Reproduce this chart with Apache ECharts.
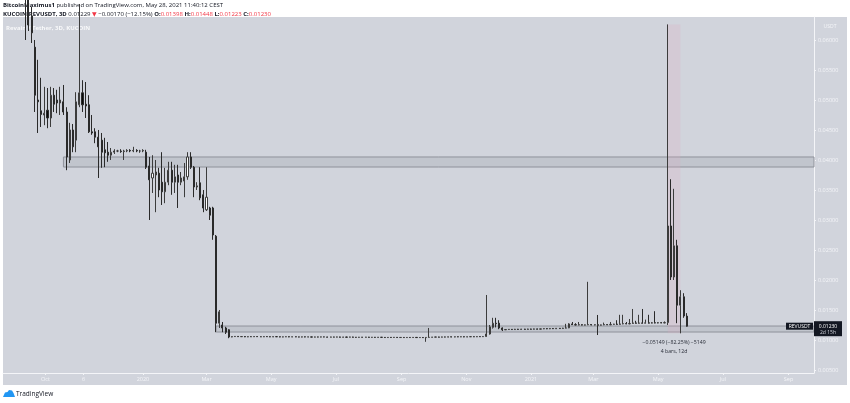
<!DOCTYPE html>
<html><head><meta charset="utf-8">
<script src="https://cdn.jsdelivr.net/npm/echarts@6/dist/echarts.min.js"></script>
<style>html,body{margin:0;padding:0;background:#fff}#c{width:850px;height:403px}</style>
</head><body><div id="c"></div>
<script>
// ---- DATA (3D candles, KUCOIN:REVUSDT) ----
const firstBarDate = '2019-09-12';
const barStepDays = 3;
const opens = [
0.0700,0.0680,0.0640,0.0588,0.0500,0.0482,0.0475,0.0483,0.0470,0.0508,
0.0500,0.0495,0.0497,0.0480,0.0400,0.0450,0.0433,0.0492,0.0512,0.0493,
0.0492,0.0447,0.0447,0.0438,0.0433,0.0417,0.0413,0.0408,0.0413,0.0415,
0.0415,0.0414,0.0415,0.0416,0.0415,0.0416,0.0415,0.0415,0.0413,0.0390,
0.0370,0.0375,0.0378,0.0363,0.0347,0.0363,0.0383,0.0363,0.0375,0.0363,
0.0365,0.0372,0.0405,0.0388,0.0355,0.0362,0.0342,0.0317,0.0320,0.0320,
0.0273,0.0128,0.0125,0.0120,0.0117,0.01050,0.01057,0.01060,0.01055,0.01058,
0.01052,0.01056,0.01054,0.01058,0.01055,0.01053,0.01057,0.01055,0.01052,0.01056,
0.01054,0.01050,0.01053,0.01055,0.01051,0.01054,0.01052,0.01049,0.01053,0.01050,
0.01052,0.01048,0.01051,0.01049,0.01052,0.01050,0.01047,0.01050,0.01048,0.01051,
0.01046,0.01049,0.01047,0.01050,0.01046,0.01044,0.01047,0.01045,0.01048,0.01044,
0.01046,0.01043,0.01046,0.01044,0.01041,0.01044,0.01042,0.01045,0.01041,0.01043,
0.01040,0.01043,0.01041,0.01044,0.01040,0.01042,0.01039,0.01043,0.01045,0.01048,
0.01050,0.01047,0.01051,0.01049,0.01053,0.01050,0.01054,0.01052,0.01055,0.01051,
0.01054,0.01056,0.01053,0.01057,0.01055,0.01058,0.01100,0.01210,0.01280,0.01280,
0.01200,0.01170,0.01175,0.01178,0.01174,0.01180,0.01176,0.01181,0.01177,0.01183,
0.01179,0.01185,0.01180,0.01186,0.01190,0.01186,0.01192,0.01188,0.01195,0.01191,
0.01198,0.01202,0.01268,0.01255,0.01250,0.01256,0.01248,0.01253,0.01258,0.01250,
0.01255,0.01246,0.01252,0.01258,0.01253,0.01260,0.01265,0.01260,0.01268,0.01273,
0.01268,0.01275,0.01285,0.01278,0.01284,0.01280,0.01286,0.01281,0.01288,0.01283,
0.01289,0.01284,0.01290,0.02900,0.02050,0.02570,0.01580,0.01720,0.01398];
const closes = [
0.0680,0.0625,0.0612,0.0508,0.0497,0.0476,0.0478,0.0470,0.0508,0.0493,
0.0495,0.0500,0.0480,0.0405,0.0450,0.0422,0.0497,0.0512,0.0492,0.0490,
0.0447,0.0445,0.0438,0.0422,0.0413,0.0412,0.0408,0.0413,0.0415,0.0415,
0.0414,0.0415,0.0416,0.0415,0.0416,0.0415,0.0415,0.0416,0.0388,0.0367,
0.0378,0.0380,0.0350,0.0347,0.0363,0.0383,0.0363,0.0372,0.0363,0.0370,
0.0372,0.0405,0.0388,0.0355,0.0357,0.0337,0.0320,0.0338,0.0308,0.0275,
0.0128,0.0147,0.0120,0.0113,0.0105,0.01057,0.01060,0.01055,0.01058,0.01052,
0.01056,0.01054,0.01058,0.01055,0.01053,0.01057,0.01055,0.01052,0.01056,0.01054,
0.01050,0.01053,0.01055,0.01051,0.01054,0.01052,0.01049,0.01053,0.01050,0.01052,
0.01048,0.01051,0.01049,0.01052,0.01050,0.01047,0.01050,0.01048,0.01051,0.01046,
0.01049,0.01047,0.01050,0.01046,0.01044,0.01047,0.01045,0.01048,0.01044,0.01046,
0.01043,0.01046,0.01044,0.01041,0.01044,0.01042,0.01045,0.01041,0.01043,0.01040,
0.01043,0.01041,0.01044,0.01040,0.01042,0.01039,0.01043,0.01045,0.01048,0.01050,
0.01047,0.01051,0.01049,0.01053,0.01050,0.01054,0.01052,0.01055,0.01051,0.01054,
0.01056,0.01053,0.01057,0.01055,0.01058,0.01100,0.01220,0.01280,0.01270,0.01200,
0.01170,0.01175,0.01178,0.01174,0.01180,0.01176,0.01181,0.01177,0.01183,0.01179,
0.01185,0.01180,0.01186,0.01190,0.01186,0.01192,0.01188,0.01195,0.01191,0.01198,
0.01202,0.01268,0.01255,0.01250,0.01256,0.01248,0.01253,0.01258,0.01250,0.01255,
0.01246,0.01252,0.01258,0.01253,0.01260,0.01265,0.01260,0.01268,0.01273,0.01268,
0.01275,0.01285,0.01278,0.01284,0.01280,0.01286,0.01281,0.01288,0.01283,0.01289,
0.01284,0.01290,0.02900,0.02050,0.02570,0.01580,0.01720,0.01400,0.01230];
const lows = [
0.0600,0.0615,0.0595,0.0480,0.0445,0.0455,0.0458,0.0453,0.0455,0.0480,
0.0478,0.0475,0.0475,0.0383,0.0395,0.0413,0.0413,0.0488,0.0480,0.0470,
0.0445,0.0442,0.0428,0.0370,0.0387,0.0388,0.0397,0.0400,0.0410,0.0413,
0.0412,0.0400,0.0413,0.0413,0.0413,0.0413,0.0412,0.0413,0.0385,0.0300,
0.0345,0.0313,0.0338,0.0325,0.0328,0.0358,0.0342,0.0345,0.0320,0.0358,
0.0338,0.0367,0.0385,0.0338,0.0350,0.0333,0.0313,0.0315,0.0300,0.0267,
0.0113,0.0120,0.0113,0.0110,0.0103,0.01046,0.01053,0.01051,0.01051,0.01048,
0.01048,0.01050,0.01050,0.01051,0.01049,0.01049,0.01051,0.01048,0.01048,0.01050,
0.01046,0.01046,0.01049,0.01047,0.01047,0.01048,0.01045,0.01045,0.01046,0.01046,
0.01044,0.01044,0.01045,0.01045,0.01046,0.01043,0.01043,0.01044,0.01044,0.01042,
0.01042,0.01043,0.01043,0.01042,0.01040,0.01040,0.01041,0.01041,0.01040,0.01040,
0.01039,0.01039,0.01040,0.01037,0.01037,0.01038,0.01038,0.01037,0.01037,0.01036,
0.01036,0.01037,0.01037,0.01036,0.01036,0.01035,0.00970,0.01039,0.01041,0.01044,
0.01043,0.01043,0.01045,0.01045,0.01046,0.01046,0.01048,0.01048,0.01047,0.01047,
0.01050,0.01049,0.01049,0.01051,0.01051,0.01050,0.01090,0.01190,0.01210,0.01180,
0.01150,0.01166,0.01170,0.01169,0.01169,0.01171,0.01171,0.01172,0.01172,0.01174,
0.01174,0.01175,0.01175,0.01181,0.01181,0.01181,0.01183,0.01183,0.01186,0.01186,
0.01193,0.01197,0.01250,0.01245,0.01245,0.01243,0.01243,0.01248,0.01245,0.01245,
0.01083,0.01241,0.01247,0.01248,0.01248,0.01255,0.01255,0.01255,0.01263,0.01263,
0.01263,0.01270,0.01273,0.01273,0.01275,0.01275,0.01276,0.01276,0.01278,0.01278,
0.01279,0.01279,0.01250,0.02000,0.02000,0.01280,0.01111,0.01370,0.01223];
const highs = [
0.0720,0.0690,0.0655,0.0600,0.0567,0.0537,0.0522,0.0520,0.0522,0.0520,
0.0517,0.0522,0.0525,0.0488,0.0462,0.0460,0.0513,0.0660,0.0533,0.0530,
0.0508,0.0475,0.0453,0.0450,0.0445,0.0437,0.0430,0.0420,0.0418,0.0417,
0.0418,0.0417,0.0418,0.0418,0.0422,0.0418,0.0417,0.0418,0.0417,0.0405,
0.0408,0.0400,0.0387,0.0413,0.0387,0.0397,0.0397,0.0392,0.0392,0.0380,
0.0395,0.0413,0.0413,0.0390,0.0363,0.0388,0.0350,0.0388,0.0322,0.0322,
0.0275,0.0150,0.0130,0.0122,0.0118,0.01061,0.01064,0.01064,0.01062,0.01062,
0.01060,0.01060,0.01062,0.01062,0.01059,0.01061,0.01061,0.01059,0.01060,0.01060,
0.01058,0.01057,0.01059,0.01059,0.01058,0.01058,0.01056,0.01057,0.01057,0.01056,
0.01056,0.01055,0.01055,0.01056,0.01056,0.01054,0.01054,0.01054,0.01055,0.01055,
0.01053,0.01053,0.01054,0.01054,0.01050,0.01051,0.01051,0.01052,0.01052,0.01050,
0.01050,0.01050,0.01050,0.01048,0.01048,0.01048,0.01049,0.01049,0.01047,0.01047,
0.01047,0.01047,0.01048,0.01048,0.01046,0.01046,0.01047,0.01200,0.01052,0.01054,
0.01054,0.01055,0.01055,0.01057,0.01057,0.01058,0.01058,0.01059,0.01059,0.01058,
0.01060,0.01060,0.01061,0.01061,0.01062,0.01750,0.01250,0.01370,0.01370,0.01330,
0.01210,0.01180,0.01183,0.01183,0.01185,0.01185,0.01186,0.01186,0.01188,0.01188,
0.01190,0.01190,0.01191,0.01195,0.01195,0.01197,0.01197,0.01200,0.01200,0.01203,
0.01270,0.01280,0.01300,0.01280,0.01300,0.01262,0.01258,0.01970,0.01263,0.01260,
0.01417,0.01257,0.01290,0.01263,0.01300,0.01270,0.01330,0.01420,0.01420,0.01300,
0.01350,0.01517,0.01320,0.01420,0.01517,0.01340,0.01420,0.01300,0.01480,0.01300,
0.01300,0.01310,0.06260,0.03680,0.03520,0.02670,0.01830,0.01780,0.01448];

const timeTickDates = ['2019-10-01','2019-11-06','2020-01-01','2020-03-01','2020-05-01','2020-07-01','2020-09-01','2020-11-01','2021-01-01','2021-03-01','2021-05-01','2021-07-01','2021-09-01'];
const timeTickLabels = ['Oct','6','2020','Mar','May','Jul','Sep','Nov','2021','Mar','May','Jul','Sep'];
const priceTicks = [0.005,0.010,0.015,0.020,0.025,0.030,0.035,0.040,0.045,0.050,0.055,0.060];
const viewStartDate = '2019-08-22';
const viewEndDate = '2021-09-25';
const priceMin = 0.0045;
const priceMax = 0.063833;
const resistanceStart = '2019-10-18';
const resistanceBand = [0.03883, 0.0405];
const supportStart = '2020-03-10';
const supportBand = [0.01133, 0.01233];
const measureFrom = '2021-05-10';
const measureTo = '2021-05-22';

// ---- helpers ----
const DAY = 86400000, EPOCH = Date.UTC(2020, 0, 1);
function dayOf(s) { const p = s.split('-').map(Number); return (Date.UTC(p[0], p[1] - 1, p[2]) - EPOCH) / DAY; }
const firstDay = dayOf(firstBarDate);
const candles = opens.map((o, i) => [firstDay + i * barStepDays, o, closes[i], lows[i], highs[i]]);
const xMin = dayOf(viewStartDate), xMax = dayOf(viewEndDate);
const tickDays = timeTickDates.map(dayOf);
const iFrom = (dayOf(measureFrom) - firstDay) / barStepDays;
const iTo = (dayOf(measureTo) - firstDay) / barStepDays;
const mHigh = highs[iFrom], mLow = lows[iTo];
const mChange = mLow - mHigh;
const minus = '\u2212';
const fmtSigned = v => (v < 0 ? minus : '') + Math.abs(v).toFixed(5);
const measureText = fmtSigned(mChange) + ' (' + minus + (Math.abs(mChange) / mHigh * 100).toFixed(2) + '%) ' + minus + Math.round(Math.abs(mChange) * 100000)
  + '\n' + (iTo - iFrom) + ' bars, ' + ((iTo - iFrom) * barStepDays) + 'd';

const FONT = '"Open Sans", "DejaVu Sans", sans-serif';
const LIGHT = '#f4f5f8';
const PANE = '#d1d4dc';
const RED = '#f23645';
const INK = '#131722';

const chart = echarts.init(document.getElementById('c'), null, { renderer: 'canvas' });
chart.setOption({
  animation: false,
  backgroundColor: '#ffffff',
  grid: { left: 3, right: 36, top: 17, bottom: 30 },
  xAxis: {
    type: 'value', min: xMin, max: xMax,
    axisLine: { show: true, onZero: false, lineStyle: { color: LIGHT, width: 1 } },
    axisTick: { show: true, customValues: tickDays, length: 2, lineStyle: { color: LIGHT } },
    axisLabel: {
      show: true, customValues: tickDays, margin: 3, color: LIGHT, fontSize: 5.5, fontFamily: FONT,
      formatter: v => { const i = tickDays.findIndex(t => Math.abs(t - v) < 0.5); return i < 0 ? '' : timeTickLabels[i]; }
    },
    splitLine: { show: false }
  },
  yAxis: {
    type: 'value', position: 'right', min: priceMin, max: priceMax, scale: true,
    axisLine: { show: true, onZero: false, lineStyle: { color: LIGHT, width: 1 } },
    axisTick: { show: true, customValues: priceTicks, length: 2, lineStyle: { color: LIGHT } },
    axisLabel: { show: true, customValues: priceTicks, margin: 4, color: LIGHT, fontSize: 5.5, fontFamily: FONT, formatter: v => v.toFixed(5) },
    splitLine: { show: false }
  },
  graphic: [
    { id: 'pane', type: 'rect', z: -10, silent: true, shape: { x: 3, y: 17, width: 844, height: 368 }, style: { fill: PANE } },
    { id: 'hdr1', type: 'text', silent: true, style: { x: 3, y: 5.5, verticalAlign: 'middle', fontSize: 6, fontFamily: FONT, fill: INK,
      text: '{b|BitcoinMaximus1} published on TradingView.com, May 28, 2021 11:40:12 CEST',
      rich: { b: { fontWeight: 'bold', fontSize: 6, fontFamily: FONT, fill: INK } } } },
    { id: 'hdr2', type: 'text', silent: true, style: { x: 3, y: 14, verticalAlign: 'middle', fontSize: 6, fontFamily: FONT, fill: INK,
      text: '{b|KUCOIN:REVUSDT, 3D} 0.01229 {r|\u25BC} \u22120.00170 (\u221212.15%) {b|O:}{r|0.01398} {b|H:}{r|0.01448} {b|L:}{r|0.01223} {b|C:}{r|0.01230}',
      rich: { b: { fontWeight: 'bold', fontSize: 6, fontFamily: FONT, fill: INK }, r: { fontSize: 6, fontFamily: FONT, fill: RED } } } },
    { id: 'paneTitle', type: 'text', silent: true, z: 0, style: { x: 6, y: 28, verticalAlign: 'middle', fontSize: 6, fontWeight: 'bold', fontFamily: FONT, fill: 'rgba(255,255,255,0.85)', text: 'Revain / Tether, 3D, KUCOIN' } },
    { id: 'unit', type: 'text', silent: true, style: { x: 830, y: 27, align: 'center', verticalAlign: 'middle', fontSize: 5, fontFamily: FONT, fill: LIGHT, text: 'USDT' } },
    { id: 'logo', type: 'polygon', silent: true, shape: { points: [[3, 397], [5, 392.5], [7.5, 392], [9, 390], [12, 390.5], [13.5, 393], [15, 397]] }, style: { fill: '#2196f3' } },
    { id: 'logoText', type: 'text', silent: true, style: { x: 16, y: 394, verticalAlign: 'middle', fontSize: 6.5, fontFamily: FONT, fill: INK, text: 'TradingView' } }
  ],
  series: [
    {
      type: 'line', data: [], z: 1, silent: true,
      markArea: {
        silent: true, label: { show: false },
        data: [
          [{ xAxis: dayOf(resistanceStart), yAxis: resistanceBand[0], itemStyle: { color: 'rgba(110,113,124,0.15)', borderColor: '#8f929b', borderWidth: 1 } }, { xAxis: xMax, yAxis: resistanceBand[1] }],
          [{ xAxis: dayOf(supportStart), yAxis: supportBand[0], itemStyle: { color: 'rgba(110,113,124,0.15)', borderColor: '#8f929b', borderWidth: 1 } }, { xAxis: xMax, yAxis: supportBand[1] }],
          [{ xAxis: dayOf(measureFrom), yAxis: mHigh, itemStyle: { color: 'rgba(225,170,190,0.22)', borderWidth: 0 },
             label: { show: true, position: 'bottom', distance: 5, formatter: measureText, color: '#2a2e39', fontSize: 5.2, lineHeight: 9, fontFamily: FONT, align: 'center' } },
           { xAxis: dayOf(measureTo), yAxis: mLow }]
        ]
      }
    },
    {
      type: 'candlestick', z: 3, data: candles, barWidth: 1.6, clip: true,
      itemStyle: { color: '#ffffff', color0: '#0a0a0a', borderColor: '#3c3c3c', borderColor0: '#2a2a2a', borderColorDoji: '#3c3c3c', borderWidth: 1 }
    }
  ]
});

// last price tags, positioned through the axes
const lastClose = closes[closes.length - 1];
const py = chart.convertToPixel({ yAxisIndex: 0 }, lastClose);
const px = chart.convertToPixel({ xAxisIndex: 0 }, xMax);
chart.setOption({
  graphic: [
    { id: 'tagBox', type: 'rect', silent: true, z: 10, shape: { x: px, y: py - 5, width: 28, height: 15 }, style: { fill: INK } },
    { id: 'tagPrice', type: 'text', silent: true, z: 11, style: { x: px + 14, y: py, align: 'center', verticalAlign: 'middle', fontSize: 5, fontFamily: FONT, fill: '#ffffff', text: lastClose.toFixed(5) } },
    { id: 'tagTime', type: 'text', silent: true, z: 11, style: { x: px + 14, y: py + 6.5, align: 'center', verticalAlign: 'middle', fontSize: 5, fontFamily: FONT, fill: '#d1d4dc', text: '2d 15h' } },
    { id: 'symBox', type: 'rect', silent: true, z: 10, shape: { x: px - 28, y: py - 3.5, width: 27, height: 7 }, style: { fill: INK } },
    { id: 'symText', type: 'text', silent: true, z: 11, style: { x: px - 14.5, y: py, align: 'center', verticalAlign: 'middle', fontSize: 5, fontFamily: FONT, fill: '#ffffff', text: 'REVUSDT' } }
  ]
});
</script>
</body></html>
